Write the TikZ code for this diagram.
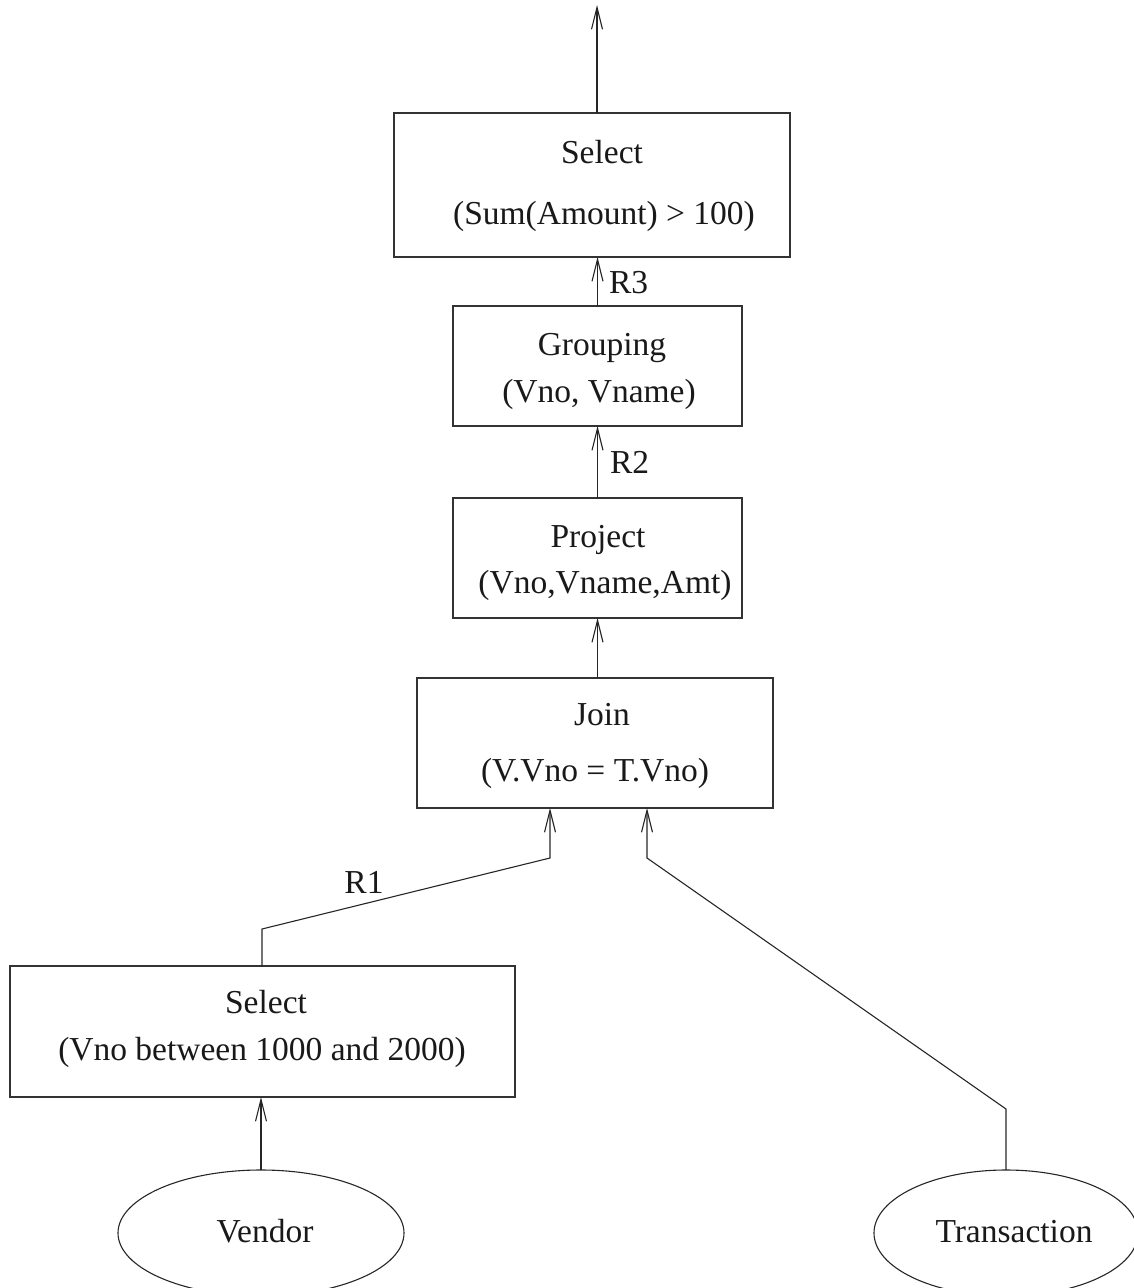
\documentclass[tikz,border=0pt]{standalone}
\usepackage{fontspec}
\setmainfont{Liberation Serif}
\usetikzlibrary{arrows.meta,shapes.geometric}
\begin{document}
\begin{tikzpicture}[x=1pt,y=-1pt,
  every node/.style={font=\fontsize{33.5}{40}\selectfont, inner sep=0pt, outer sep=0pt},
  box/.style={draw=black!80, line width=1.4pt, rectangle},
  oval/.style={draw=black!85, line width=1.1pt, ellipse},
  txt/.style={anchor=base, text=black!90},
  arr/.style={draw=black!85, line width=1.1pt, -{Straight Barb[length=22pt,width=11pt,line width=1.1pt]}},
  conn/.style={draw=black!85, line width=1.1pt}]
\useasboundingbox (0,0) rectangle (1133,1288);
% boxes
\node[box, minimum width=396pt, minimum height=144pt] (sel2) at (592,185) {};
\node[box, minimum width=289pt, minimum height=120pt] (grp) at (597.5,366) {};
\node[box, minimum width=289pt, minimum height=120pt] (prj) at (597.5,558) {};
\node[box, minimum width=356pt, minimum height=130pt] (join) at (595,743) {};
\node[box, minimum width=505pt, minimum height=131pt] (sel1) at (262.5,1031.5) {};
\node[oval, minimum width=286pt, minimum height=126pt] (ven) at (261,1233) {};
\node[oval, minimum width=264pt, minimum height=126pt] (tra) at (1006,1233) {};
% texts
\node[txt] (t1) at (602,163) {Select};
\node[txt] (t2) at (604,224) {(Sum(Amount) > 100)};
\node[txt] (t3) at (602,355) {Grouping};
\node[txt] (t4) at (599,402) {(Vno, Vname)};
\node[txt] (t5) at (598,547) {Project};
\node[txt] (t6) at (605,593) {(Vno,Vname,Amt)};
\node[txt] (t7) at (602,725) {Join};
\node[txt] (t8) at (595,781) {(V.Vno = T.Vno)};
\node[txt] (t9) at (266,1013) {Select};
\node[txt] (t10) at (262,1060) {(Vno between 1000 and 2000)};
\node[txt] (t11) at (265,1242) {Vendor};
\node[txt] (t12) at (1014,1242) {Transaction};
% labels
\node[txt, anchor=base west] (r3) at (609,293) {R3};
\node[txt, anchor=base west] (r2) at (610,473) {R2};
\node[txt] (r1) at (364,893) {R1};
% coordinates
\coordinate (out) at (597,5);
\coordinate (c1) at (262,929);
\coordinate (c2) at (550,858);
\coordinate (c3) at (1006,1109);
\coordinate (c4) at (647,858);
% connectors
\draw[arr] (sel2.north -| out) -- (out);
\draw[arr] (grp.north) -- (sel2.south -| grp.north);
\draw[arr] (prj.north) -- (grp.south);
\draw[arr] (join.north -| prj.north) -- (prj.south);
\draw[arr] (sel1.north -| c1) -- (c1) -- (c2) -- (c2 |- join.south);
\draw[arr] (tra.north) -- (c3) -- (c4) -- (c4 |- join.south);
\draw[arr] (ven.north) -- (sel1.south -| ven.north);
\end{tikzpicture}
\end{document}
